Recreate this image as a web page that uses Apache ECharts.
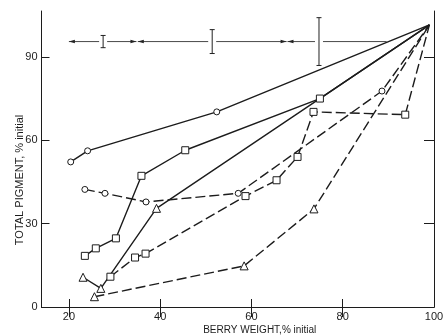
<!DOCTYPE html>
<html>
<head>
<meta charset="utf-8">
<script src="https://cdn.jsdelivr.net/npm/echarts@6/dist/echarts.min.js"></script>
<style>
  html, body { margin: 0; padding: 0; background: #fff; }
  #chart { width: 443px; height: 335px; }
</style>
</head>
<body>
<div id="chart"></div>
<script>
// Pigment retention vs. berry weight loss, one curve per treatment.
const circSolid  = [[20.4, 52.2], [24.1, 56.2], [52.4, 70.2], [99, 101.5]];
const sqSolid    = [[23.5, 18.4], [25.9, 21.1], [30.3, 24.7], [35.9, 47.2], [45.5, 56.4], [75, 75], [99, 101.5]];
const triSolid   = [[23.1, 10.7], [27.0, 6.7], [39.2, 35.5], [99, 101.5]];
const circDashed = [[23.5, 42.3], [27.9, 40.9], [36.9, 37.8], [57.1, 40.9], [88.6, 77.7], [99, 101.5]];
const sqDashed   = [[29.1, 10.9], [34.5, 17.8], [36.8, 19.2], [58.7, 39.9], [65.5, 45.6], [70.1, 54.0], [73.6, 70.2], [93.7, 69.2], [99, 101.5]];
const triDashed  = [[25.6, 3.7], [58.4, 14.8], [73.7, 35.3], [99, 101.5]];

// Weight-range bands with their error bars along the top of the plot
const rangeY = 95.5;
const rangeSegments = [[20, 34.8], [35.1, 67.7], [67.9, 89.6]];
const leftArrowTips = [20, 35.1, 67.9];
const rightArrowTips = [34.8, 67.7];
const errorBarX = [27.5, 51.4, 74.8];
const errorBarHalf = [2.2, 4.3, 8.6];

// Tick positions
const xTickLabels = [20, 40, 60, 80, 100];
const xTicks = [20, 40, 60, 80];
const yTickLabels = [0, 30, 60, 90];
const yTicks = [30, 60, 90];

const INK = '#1c1c1c';
const FONT = 'Liberation Sans, Arial, sans-serif';

function withEnd(data) {
  return data.map((p, i) => i === data.length - 1 ? { value: p, symbol: 'none' } : p);
}

function curve(data, symbol, dashed, size) {
  return {
    type: 'line',
    data: withEnd(data),
    symbol: symbol,
    symbolSize: size,
    showSymbol: true,
    animation: false,
    lineStyle: { color: INK, width: 1.4, type: dashed ? [10, 4] : 'solid' },
    itemStyle: { color: '#fff', borderColor: INK, borderWidth: 1 },
    emphasis: { disabled: true },
    z: 3
  };
}

const chart = echarts.init(document.getElementById('chart'), null, { renderer: 'canvas' });

const option = {
  backgroundColor: '#fff',
  animation: false,
  grid: { left: 41.5, right: 9, top: 11, bottom: 28, containLabel: false, outerBoundsMode: 'none' },
  xAxis: [
    {
      type: 'value', min: 14, max: 100, position: 'bottom',
      axisLine: { lineStyle: { color: INK, width: 1 } },
      axisTick: { inside: true, length: 8, customValues: xTicks, lineStyle: { color: INK } },
      axisLabel: { customValues: xTickLabels, color: INK, fontSize: 11, fontFamily: FONT, margin: 4 },
      splitLine: { show: false },
      name: 'BERRY WEIGHT,% initial',
      nameLocation: 'middle',
      nameGap: 18,
      nameMoveOverlap: false,
      nameTextStyle: { color: INK, fontSize: 10, fontFamily: FONT, padding: [0, 0, 0, 44] }
    },
    {
      type: 'value', min: 14, max: 100, position: 'top',
      axisLine: { lineStyle: { color: INK, width: 1 } },
      axisTick: { inside: true, length: 10, customValues: xTicks, lineStyle: { color: INK } },
      axisLabel: { show: false },
      splitLine: { show: false }
    }
  ],
  yAxis: [
    {
      type: 'value', min: 0, max: 106.5, position: 'left',
      axisLine: { show: true, lineStyle: { color: INK, width: 1 } },
      axisTick: { show: true, inside: true, length: 8, customValues: yTicks, lineStyle: { color: INK } },
      axisLabel: { customValues: yTickLabels, color: INK, fontSize: 11, fontFamily: FONT, margin: 4 },
      splitLine: { show: false },
      name: 'TOTAL PIGMENT, % initial',
      nameLocation: 'middle',
      nameGap: 16,
      nameMoveOverlap: false,
      nameTextStyle: { color: INK, fontSize: 11, fontFamily: FONT, padding: [0, 42, 0, 0] }
    },
    {
      type: 'value', min: 0, max: 106.5, position: 'right',
      axisLine: { show: true, lineStyle: { color: INK, width: 1 } },
      axisTick: { show: true, inside: true, length: 10, customValues: yTicks, lineStyle: { color: INK } },
      axisLabel: { show: false },
      splitLine: { show: false }
    }
  ],
  series: [
    curve(circSolid, 'circle', false, 6),
    curve(sqSolid, 'rect', false, 7),
    curve(triSolid, 'triangle', false, 8),
    curve(circDashed, 'circle', true, 6),
    curve(sqDashed, 'rect', true, 7),
    curve(triDashed, 'triangle', true, 8),
    {
      // horizontal range lines, broken around each error bar
      type: 'custom',
      data: rangeSegments,
      encode: { x: [0, 1] },
      silent: true,
      renderItem: function (params, api) {
        const x0 = api.value(0), x1 = api.value(1);
        const p0 = api.coord([x0, rangeY]);
        const p1 = api.coord([x1, rangeY]);
        const bar = errorBarX.find(b => b > x0 && b < x1);
        const style = { stroke: '#333', lineWidth: 0.9 };
        const children = [];
        if (bar !== undefined) {
          const pb = api.coord([bar, rangeY]);
          children.push({ type: 'line', shape: { x1: p0[0], y1: p0[1], x2: pb[0] - 4, y2: pb[1] }, style: style });
          children.push({ type: 'line', shape: { x1: pb[0] + 4, y1: pb[1], x2: p1[0], y2: p1[1] }, style: style });
        } else {
          children.push({ type: 'line', shape: { x1: p0[0], y1: p0[1], x2: p1[0], y2: p1[1] }, style: style });
        }
        return { type: 'group', children: children };
      }
    },
    {
      // arrowheads marking the range ends
      type: 'custom',
      data: leftArrowTips.map(x => [x, -1]).concat(rightArrowTips.map(x => [x, 1])),
      encode: { x: 0 },
      silent: true,
      renderItem: function (params, api) {
        const dir = api.value(1);
        const p = api.coord([api.value(0), rangeY]);
        return {
          type: 'polygon',
          shape: { points: [[p[0], p[1]], [p[0] - dir * 6, p[1] - 1.8], [p[0] - dir * 6, p[1] + 1.8]] },
          style: { fill: '#222' }
        };
      }
    },
    {
      // error bars with small caps
      type: 'custom',
      data: errorBarX.map((x, i) => [x, errorBarHalf[i]]),
      encode: { x: 0 },
      silent: true,
      renderItem: function (params, api) {
        const x = api.value(0), h = api.value(1);
        const top = api.coord([x, rangeY + h]);
        const bot = api.coord([x, rangeY - h]);
        const style = { stroke: '#222', lineWidth: 1 };
        return {
          type: 'group',
          children: [
            { type: 'line', shape: { x1: top[0], y1: top[1], x2: bot[0], y2: bot[1] }, style: style },
            { type: 'line', shape: { x1: top[0] - 2.5, y1: top[1], x2: top[0] + 2.5, y2: top[1] }, style: style },
            { type: 'line', shape: { x1: bot[0] - 2.5, y1: bot[1], x2: bot[0] + 2.5, y2: bot[1] }, style: style }
          ]
        };
      }
    }
  ]
};

chart.setOption(option);
</script>
</body>
</html>
